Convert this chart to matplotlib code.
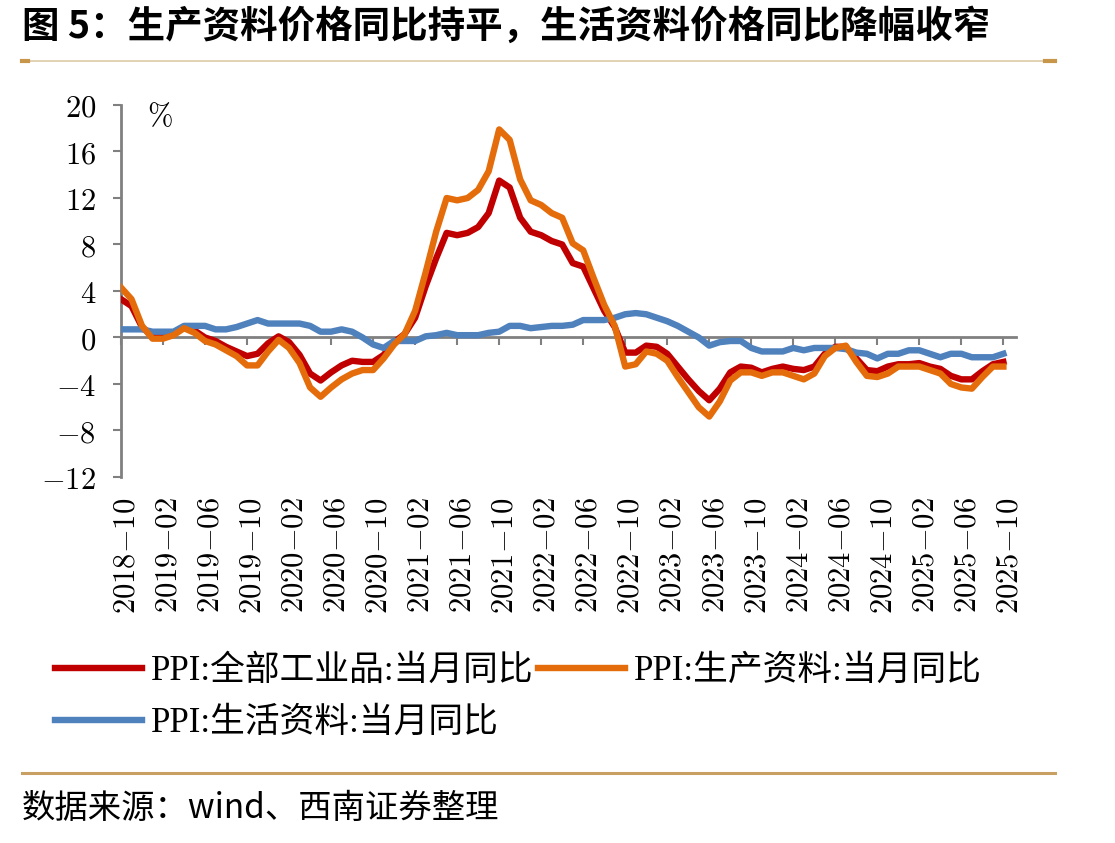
import numpy as np
import pandas as pd
import matplotlib
matplotlib.use("Agg")
import matplotlib.pyplot as plt
from matplotlib.lines import Line2D
import matplotlib.transforms as mtransforms

plt.rcParams['font.family'] = ['Noto Sans CJK SC', 'DejaVu Sans']
plt.rcParams['mathtext.fontset'] = 'cm'
plt.rcParams['axes.unicode_minus'] = True

# months 2018-10 .. 2025-10
months = [p.strftime('%Y-%m') for p in pd.period_range('2018-10', '2025-10', freq='M')]

# PPI: all industrial products, yoy %
ppi_all = [3.3, 2.7, 0.9,
           0.1, 0.1, 0.4, 0.9, 0.6, 0.0, -0.3, -0.8, -1.2, -1.6, -1.4, -0.5,
           0.1, -0.4, -1.5, -3.1, -3.7, -3.0, -2.4, -2.0, -2.1, -2.1, -1.5, -0.4,
           0.3, 1.7, 4.4, 6.8, 9.0, 8.8, 9.0, 9.5, 10.7, 13.5, 12.9, 10.3,
           9.1, 8.8, 8.3, 8.0, 6.4, 6.1, 4.2, 2.3, 0.9, -1.3, -1.3, -0.7,
           -0.8, -1.4, -2.5, -3.6, -4.6, -5.4, -4.4, -3.0, -2.5, -2.6, -3.0, -2.7,
           -2.5, -2.7, -2.8, -2.5, -1.4, -0.8, -0.8, -1.8, -2.8, -2.9, -2.5, -2.3,
           -2.3, -2.2, -2.5, -2.7, -3.3, -3.6, -3.6, -2.9, -2.3, -2.1]

# PPI: producer goods, yoy %
ppi_prod = [4.3, 3.3, 1.0,
            -0.1, -0.1, 0.2, 0.8, 0.4, -0.3, -0.6, -1.1, -1.6, -2.4, -2.4, -1.2,
            -0.2, -0.9, -2.2, -4.3, -5.1, -4.3, -3.6, -3.1, -2.8, -2.8, -1.8, -0.6,
            0.3, 2.3, 5.6, 9.1, 12.0, 11.8, 12.0, 12.7, 14.3, 17.9, 17.0, 13.6,
            11.8, 11.4, 10.7, 10.3, 8.1, 7.5, 5.1, 2.8, 1.0, -2.5, -2.3, -1.2,
            -1.4, -2.0, -3.4, -4.7, -6.0, -6.8, -5.5, -3.7, -3.0, -3.0, -3.3, -3.0,
            -3.0, -3.3, -3.6, -3.1, -1.6, -0.9, -0.7, -2.1, -3.3, -3.4, -3.1, -2.5,
            -2.5, -2.5, -2.8, -3.1, -4.0, -4.3, -4.4, -3.4, -2.5, -2.5]

# PPI: consumer goods, yoy %
ppi_cons = [0.7, 0.7, 0.7,
            0.5, 0.5, 0.5, 1.0, 1.0, 1.0, 0.7, 0.7, 0.9, 1.2, 1.5, 1.2,
            1.2, 1.2, 1.2, 1.0, 0.5, 0.5, 0.7, 0.5, 0.0, -0.6, -0.9, -0.3,
            -0.3, -0.3, 0.1, 0.2, 0.4, 0.2, 0.2, 0.2, 0.4, 0.5, 1.0, 1.0,
            0.8, 0.9, 1.0, 1.0, 1.1, 1.5, 1.5, 1.5, 1.7, 2.0, 2.1, 2.0,
            1.7, 1.4, 1.0, 0.5, 0.0, -0.7, -0.4, -0.3, -0.3, -0.9, -1.2, -1.2,
            -1.2, -0.9, -1.1, -0.9, -0.9, -0.9, -1.0, -1.3, -1.4, -1.8, -1.4, -1.4,
            -1.1, -1.1, -1.4, -1.7, -1.4, -1.4, -1.7, -1.7, -1.7, -1.4]

names = ['PPI:全部工业品:当月同比', 'PPI:生产资料:当月同比', 'PPI:生活资料:当月同比']
colors = ['#C00000', '#E46C0A', '#4F81BD']
yticks = list(range(-12, 21, 4))

W, H = 1115, 843
fig = plt.figure(figsize=(W / 100, H / 100), dpi=100)
ax = fig.add_axes([121 / W, 1 - 477 / H, (1016 - 121) / W, (477 - 105) / H])

x = np.arange(len(months))
l1, = ax.plot(x, ppi_all, color=colors[0], lw=4.6, zorder=3, solid_joinstyle='round')
l3, = ax.plot(x, ppi_cons, color=colors[2], lw=4.6, zorder=3, solid_joinstyle='round')
l2, = ax.plot(x, ppi_prod, color=colors[1], lw=4.6, zorder=3, solid_joinstyle='round')

ax.set_xlim(0, 85.2)
ax.set_ylim(-12, 20)

gray = '#808080'
for s in ['top', 'right']:
    ax.spines[s].set_visible(False)
ax.spines['left'].set_color(gray)
ax.spines['left'].set_linewidth(2)
ax.spines['bottom'].set_position(('data', 0))
ax.spines['bottom'].set_color(gray)
ax.spines['bottom'].set_linewidth(2)
ax.spines['bottom'].set_zorder(2)

ax.set_yticks(yticks)
ax.set_yticklabels([f'${v}$' for v in yticks])
ax.tick_params(axis='y', direction='out', length=6, width=1.5, color=gray,
               labelsize=22, pad=12)

tick_pos = x[::4]
ax.set_xticks(tick_pos)
ax.tick_params(axis='x', direction='out', length=6, width=1.5, color=gray,
               labelbottom=False)

trans = mtransforms.blended_transform_factory(ax.transData, ax.transAxes)
for i in tick_pos:
    y_, m_ = months[i].split('-')
    ax.text(i + 0.5, -0.055, f'${y_}{{-}}{m_}$', transform=trans, rotation=90,
            ha='center', va='top', fontsize=22)

fig.text(147 / W, 1 - 117 / H, r'$\%$', fontsize=22, va='center', ha='left')

# title
fig.text(22 / W, 1 - 26 / H, '图 5：生产资料价格同比持平，生活资料价格同比降幅收窄',
         fontsize=27, fontweight='bold', va='center', ha='left')
fig.add_artist(Line2D([22 / W, 1055 / W], [1 - 61 / H] * 2, color='#DCCBA6', lw=1.2))
fig.add_artist(Line2D([22 / W, 28 / W], [1 - 61 / H] * 2, color='#C8964A', lw=3))
fig.add_artist(Line2D([1045 / W, 1055 / W], [1 - 61 / H] * 2, color='#C8964A', lw=3))

# legend
fig.legend([l1, l3, l2], [names[0], names[2], names[1]], ncol=2, loc='upper left',
           bbox_to_anchor=(55 / W, 1 - 655 / H), frameon=False,
           prop={'family': ['Liberation Serif', 'Noto Sans CJK SC'], 'size': 25},
           handlelength=2.5, handletextpad=0.25, columnspacing=0.15,
           labelspacing=0.55, borderpad=0, borderaxespad=0)

# bottom rule and source
fig.add_artist(Line2D([22 / W, 1055 / W], [1 - 773 / H] * 2, color='#C9A063', lw=2.2))
fig.text(22 / W, 1 - 808 / H, '数据来源：wind、西南证券整理', fontsize=24,
         style='italic', va='center', ha='left')

fig.savefig('out.png', dpi=100)
